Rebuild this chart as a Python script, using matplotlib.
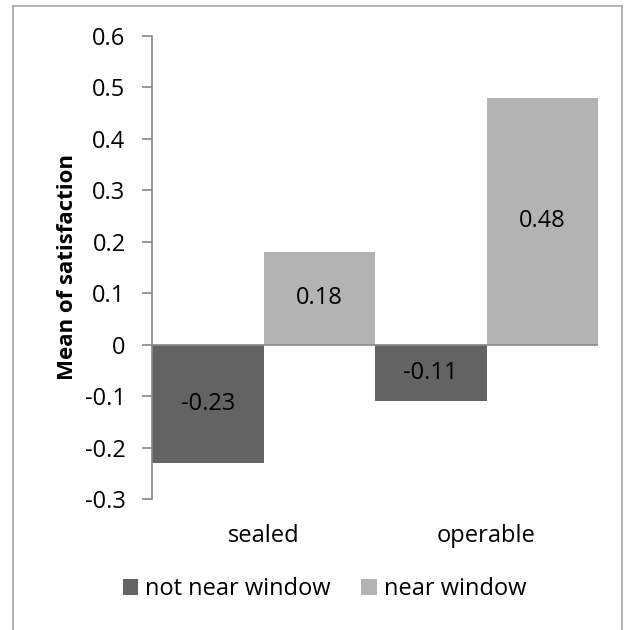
import matplotlib
matplotlib.use('Agg')
import matplotlib.pyplot as plt
from matplotlib.lines import Line2D
from matplotlib.patches import Patch
import numpy as np

categories = ['sealed', 'operable']
series_names = ['not near window', 'near window']
not_near = [-0.23, -0.11]
near = [0.18, 0.48]
yticks = [-0.3, -0.2, -0.1, 0, 0.1, 0.2, 0.3, 0.4, 0.5, 0.6]
ytick_labels = ['-0.3', '-0.2', '-0.1', '0', '0.1', '0.2', '0.3', '0.4', '0.5', '0.6']

dark = '#636363'
light = '#b3b3b3'
axis_grey = '#888888'
fs = 17

plt.rcParams['font.family'] = ['Open Sans', 'DejaVu Sans']

fig = plt.figure(figsize=(6.25, 6.3), dpi=100)
ax = fig.add_axes([0.2432, 0.2079, 0.7136, 0.735])

x = np.arange(len(categories))
w = 0.5
b1 = ax.bar(x - w / 2, not_near, w, color=dark, zorder=2)
b2 = ax.bar(x + w / 2, near, w, color=light, zorder=2)

for bars, vals in ((b1, not_near), (b2, near)):
    for bar, v in zip(bars, vals):
        ax.text(bar.get_x() + bar.get_width() / 2, v / 2, f'{v:.2f}',
                ha='center', va='center', fontsize=fs, color='black', zorder=3)

ax.set_xlim(-0.5, 1.5)
ax.set_ylim(-0.3, 0.6)
ax.set_yticks(yticks)
ax.set_yticklabels(ytick_labels)
ax.set_xticks(x)
ax.set_xticklabels(categories)

ax.axhline(0, color=axis_grey, linewidth=1.2, zorder=4)

for s in ['top', 'right', 'bottom']:
    ax.spines[s].set_visible(False)
ax.spines['left'].set_color(axis_grey)
ax.spines['left'].set_linewidth(1.2)

ax.tick_params(axis='y', direction='out', length=7, width=1.2, color=axis_grey,
               labelsize=fs, pad=12)
ax.tick_params(axis='x', length=0, labelsize=fs, pad=18)

ax.set_ylabel('Mean of satisfaction', fontsize=16, fontweight='bold', labelpad=5)

handles = [Patch(facecolor=dark, edgecolor='none'), Patch(facecolor=light, edgecolor='none')]
fig.legend(handles, series_names, loc='center', bbox_to_anchor=(0.519, 0.065),
           ncol=2, frameon=False, fontsize=fs, handlelength=0.65, handleheight=0.65,
           handletextpad=0.3, columnspacing=1.3)

# chart frame (open at the bottom edge)
fw, fh = 625, 630
frame = [((13, 13), (0, 624)), ((13, 622), (624, 624)), ((622, 622), (624, 0))]
for xs, ys in frame:
    fig.add_artist(Line2D([xs[0] / fw, xs[1] / fw], [ys[0] / fh, ys[1] / fh],
                          color='#a6a6a6', linewidth=1.2, transform=fig.transFigure))

fig.savefig('out.png', dpi=100)
